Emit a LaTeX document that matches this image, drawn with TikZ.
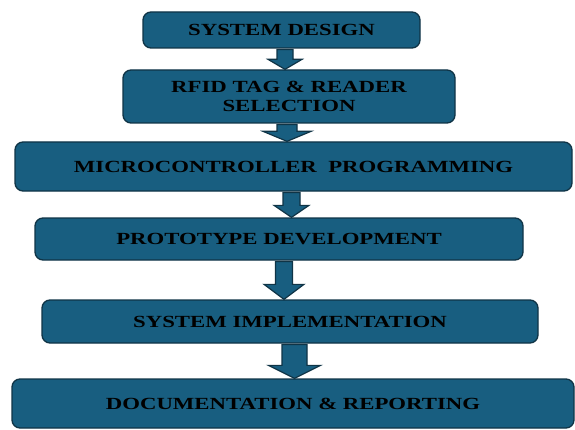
\documentclass[tikz,border=0pt]{standalone}
\usepackage{fontspec}
\setmainfont{Liberation Serif}
\usepackage{graphicx}
\usetikzlibrary{calc}
\definecolor{boxblue}{RGB}{24,94,128}
\definecolor{boxedge}{RGB}{16,52,70}
\newcommand\sx[1]{\scalebox{1.34}[1]{#1}}
\newcommand\barrow[7]{% from, to, x, half shaft, half head, head length, shaft-top offset
  \draw[blockarrow] let \p1=(#1.south), \p2=(#2.north) in
    ({#3-#4},\y1-#7) -- ({#3+#4},\y1-#7) -- ({#3+#4},\y2+#6) -- ({#3+#5},\y2+#6)
    -- ({#3},\y2) -- ({#3-#5},\y2+#6) -- ({#3-#4},\y2+#6) -- cycle;}
\tikzset{
  stage/.style={draw=boxedge, line width=1.3pt, fill=boxblue, rounded corners=8pt,
    inner sep=0pt, align=center, font=\fontsize{17}{19.5}\selectfont\bfseries, text=black},
  blockarrow/.style={draw=boxedge, line width=1.2pt, fill=boxblue, line join=miter}
}
\begin{document}
\begin{tikzpicture}[x=1pt,y=1pt]
\useasboundingbox (0,0) rectangle (575,429);
\node[stage, minimum width=277pt, minimum height=36pt] (b1) at (281.5,399) {\sx{SYSTEM DESIGN}};
\node[stage, minimum width=332pt, minimum height=53pt] (b2) at (289,332.5) {\raisebox{-2pt}{\sx{RFID TAG \& READER}}\\\raisebox{-2pt}{\sx{SELECTION}}};
\node[stage, minimum width=557pt, minimum height=49pt] (b3) at (293.5,262.5) {\sx{MICROCONTROLLER\ \ PROGRAMMING}};
\node[stage, minimum width=488pt, minimum height=42pt] (b4) at (279,190) {\sx{PROTOTYPE DEVELOPMENT}};
\node[stage, minimum width=496pt, minimum height=43pt] (b5) at (290,107.5) {\sx{SYSTEM IMPLEMENTATION}};
\node[stage, minimum width=562pt, minimum height=49pt] (b6) at (293,25.5) {\raisebox{-2.5pt}{\sx{DOCUMENTATION \& REPORTING}}};
\barrow{b1}{b2}{285}{8}{17}{10}{0.8}
\barrow{b2}{b3}{287}{10}{24}{10}{0.8}
\barrow{b3}{b4}{291.5}{8.5}{17.5}{12}{0.8}
\barrow{b4}{b5}{284}{8.5}{20}{15}{0.8}
\barrow{b5}{b6}{294.5}{12.5}{26}{13}{0.8}
\end{tikzpicture}
\end{document}
